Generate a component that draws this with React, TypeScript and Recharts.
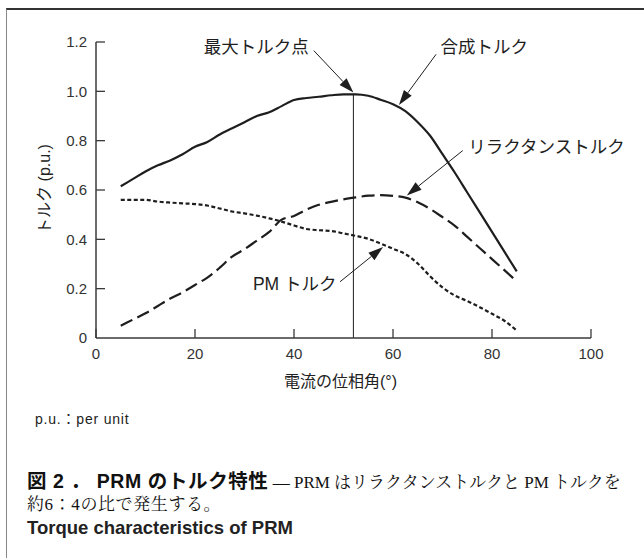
import React from "react";
import { Line, LineChart, ReferenceDot, ReferenceLine, XAxis, YAxis } from "recharts";

// phase angle of current (deg)
const angle = [5, 7.5, 10, 12.5, 15, 17.5, 20, 22.5, 25, 27.5, 30, 32.5, 35, 37.5, 40, 42.5, 45, 47.5, 50, 52.5, 55, 57.5, 60, 62.5, 65, 67.5, 70, 72.5, 75, 77.5, 80, 82.5, 85];

const totalTorque = [0.615, 0.645, 0.675, 0.7, 0.72, 0.745, 0.775, 0.795, 0.825, 0.85, 0.875, 0.9, 0.915, 0.94, 0.965, 0.973, 0.978, 0.984, 0.988, 0.988, 0.982, 0.966, 0.948, 0.92, 0.875, 0.82, 0.745, 0.67, 0.59, 0.51, 0.43, 0.35, 0.27];
const reluctanceTorque = [0.05, 0.075, 0.1, 0.13, 0.16, 0.185, 0.215, 0.245, 0.285, 0.33, 0.36, 0.395, 0.43, 0.48, 0.495, 0.52, 0.54, 0.552, 0.562, 0.57, 0.577, 0.579, 0.576, 0.569, 0.55, 0.523, 0.49, 0.455, 0.41, 0.365, 0.32, 0.275, 0.23];
const pmTorque = [0.56, 0.56, 0.56, 0.553, 0.549, 0.546, 0.543, 0.537, 0.525, 0.513, 0.505, 0.496, 0.485, 0.472, 0.456, 0.442, 0.437, 0.434, 0.424, 0.414, 0.402, 0.383, 0.362, 0.34, 0.302, 0.25, 0.205, 0.172, 0.15, 0.125, 0.098, 0.07, 0.03];

const xTicks = [0, 20, 40, 60, 80, 100];
const yTicks = [0, 0.2, 0.4, 0.6, 0.8, 1.0, 1.2];

const maxTorqueAngle = 52;
const maxTorqueValue = 0.99;

// callouts: label text, label anchor point, arrow tail, arrow tip (data units)
const callouts = [
  { text: "最大トルク点", at: { x: 43, y: 1.18 }, anchor: "end", from: { x: 44, y: 1.165 }, to: { x: 52, y: 0.995 } },
  { text: "合成トルク", at: { x: 69.6, y: 1.18 }, anchor: "start", from: { x: 68.7, y: 1.15 }, to: { x: 61.2, y: 0.945 } },
  { text: "リラクタンストルク", at: { x: 75.2, y: 0.775 }, anchor: "start", from: { x: 74.1, y: 0.76 }, to: { x: 62.8, y: 0.578 } },
  { text: "PM トルク", at: { x: 48.6, y: 0.219 }, anchor: "end", from: { x: 49.3, y: 0.228 }, to: { x: 58, y: 0.369 } },
];

const rows = angle.map((a, i) => ({
  angle: a,
  total: totalTorque[i],
  reluctance: reluctanceTorque[i],
  pm: pmTorque[i],
}));

const SANS = "'Liberation Sans', Arial, 'Noto Sans CJK JP', sans-serif";
const SERIF = "'Liberation Serif', 'Noto Serif CJK JP', 'Noto Sans CJK JP', serif";
const INK = "#1e1e1e";
const AXIS = "#3a3a3a";
const TICK_MARGIN = 9;

const XTick = ({ x, y, payload }: any) => (
  <g>
    <line x1={x} y1={y - TICK_MARGIN} x2={x} y2={y - TICK_MARGIN - 9} stroke={AXIS} strokeWidth={1.3} />
    <text x={x} y={y + 11.5} textAnchor="middle" fontSize={15} fill="#333" fontFamily={SANS}>
      {payload.value}
    </text>
  </g>
);

const YTick = ({ x, y, payload }: any) => (
  <g>
    {payload.value !== 0 && (
      <line x1={x + TICK_MARGIN} y1={y} x2={x + TICK_MARGIN + 9} y2={y} stroke={AXIS} strokeWidth={1.3} />
    )}
    <text x={x} y={y + 5.4} textAnchor="end" fontSize={15} fill="#333" fontFamily={SANS}>
      {payload.value === 0 ? "0" : payload.value.toFixed(1)}
    </text>
  </g>
);

const Arrow = (props: any) => {
  const { x1, y1, x2, y2 } = props;
  const a = Math.atan2(y2 - y1, x2 - x1);
  const len = 15;
  const half = 4.8;
  const bx = x2 - len * Math.cos(a);
  const by = y2 - len * Math.sin(a);
  const nx = -Math.sin(a) * half;
  const ny = Math.cos(a) * half;
  return (
    <g>
      <line x1={x1} y1={y1} x2={bx} y2={by} stroke={INK} strokeWidth={1} />
      <polygon points={`${x2},${y2} ${bx + nx},${by + ny} ${bx - nx},${by - ny}`} fill={INK} />
    </g>
  );
};

const calloutText = (text: string, anchor: string) => (props: any) => (
  <text x={props.cx} y={props.cy + 6} textAnchor={anchor} fontSize={17.5} fill={INK} fontFamily={SANS}>
    {text}
  </text>
);

export default function App() {
  return (
    <div style={{ position: "absolute", left: 0, top: 0, width: 644, height: 558, background: "#fff" }}>
      <div
        style={{
          position: "absolute",
          left: 6,
          top: 8,
          width: 638,
          height: 550,
          borderTop: "2px solid #333",
          borderLeft: "1px solid #888",
          boxSizing: "border-box",
        }}
      />
      <div style={{ position: "absolute", left: 0, top: 0 }}>
        <LineChart width={644} height={400} data={rows} margin={{ top: 42, right: 53, bottom: 22, left: 46 }}>
          <XAxis
            dataKey="angle"
            type="number"
            domain={[0, 100]}
            ticks={xTicks}
            height={40}
            tickSize={0}
            tickMargin={TICK_MARGIN}
            tick={<XTick />}
            stroke={AXIS}
            strokeWidth={1.5}
            label={{
              content: ({ viewBox }: any) => (
                <text x={viewBox.x + viewBox.width / 2 - 3} y={viewBox.y + 49} textAnchor="middle" fontSize={16} fill="#222" fontFamily={SANS}>
                  電流の位相角(°)
                </text>
              ),
            }}
          />
          <YAxis
            type="number"
            domain={[0, 1.2]}
            ticks={yTicks}
            width={50}
            tickSize={0}
            tickMargin={TICK_MARGIN}
            tick={<YTick />}
            stroke={AXIS}
            strokeWidth={1.5}
            label={{
              content: () => (
                <text x={44} y={189} textAnchor="middle" dominantBaseline="central" transform="rotate(-90, 44, 189)" fontSize={16} fill="#222" fontFamily={SANS}>
                  トルク (p.u.)
                </text>
              ),
            }}
          />
          <ReferenceLine
            segment={[{ x: maxTorqueAngle, y: 0 }, { x: maxTorqueAngle, y: maxTorqueValue }]}
            stroke={INK}
            strokeWidth={1}
          />
          <Line type="monotone" dataKey="pm" stroke={INK} strokeWidth={2.2} strokeDasharray="4 2.5" dot={false} isAnimationActive={false} />
          <Line type="monotone" dataKey="reluctance" stroke={INK} strokeWidth={2.2} strokeDasharray="13 5.5" dot={false} isAnimationActive={false} />
          <Line type="monotone" dataKey="total" stroke={INK} strokeWidth={2.2} dot={false} isAnimationActive={false} />
          {callouts.map((c) => (
            <ReferenceLine key={"a" + c.text} segment={[c.from, c.to]} shape={Arrow} />
          ))}
          {callouts.map((c) => (
            <ReferenceDot key={"t" + c.text} x={c.at.x} y={c.at.y} r={0} shape={calloutText(c.text, c.anchor)} />
          ))}
        </LineChart>
      </div>
      <div style={{ position: "absolute", left: 35, top: 408, fontFamily: SANS, fontSize: 14, letterSpacing: 0.8, color: "#222", whiteSpace: "nowrap" }}>
        p.u.：per unit
      </div>
      <div style={{ position: "absolute", left: 27, top: 470, whiteSpace: "nowrap", lineHeight: "22px", color: "#111" }}>
        <span style={{ fontFamily: SANS, fontWeight: 700, fontSize: 19.5, letterSpacing: 0.6 }}>図 2 ． PRM のトルク特性</span>
        <span style={{ fontFamily: SERIF, fontSize: 17 }}> — PRM はリラクタンストルクと PM トルクを</span>
        <br />
        <span style={{ fontFamily: SERIF, fontSize: 17, letterSpacing: 0.6 }}>約6：4の比で発生する。</span>
      </div>
      <div style={{ position: "absolute", left: 27, top: 517, fontFamily: SANS, fontWeight: 700, fontSize: 18.5, color: "#222", whiteSpace: "nowrap" }}>
        Torque characteristics of PRM
      </div>
    </div>
  );
}
